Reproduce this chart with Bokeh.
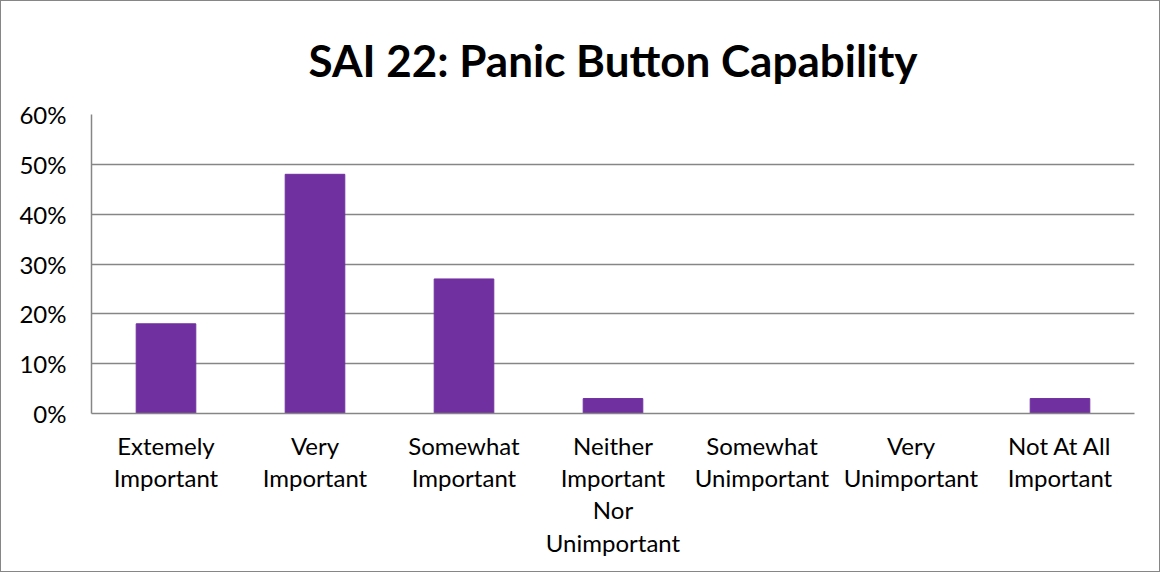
from bokeh.plotting import figure
from bokeh.models import FactorRange, NumeralTickFormatter, FixedTicker, Range1d
from bokeh.embed import file_html
from bokeh.resources import INLINE

categories = [
    "Extemely\nImportant",
    "Very\nImportant",
    "Somewhat\nImportant",
    "Neither\nImportant\nNor\nUnimportant",
    "Somewhat\nUnimportant",
    "Very\nUnimportant",
    "Not At All\nImportant",
]
values = [0.18, 0.48, 0.27, 0.03, 0.0, 0.0, 0.03]
y_ticks = [0.0, 0.1, 0.2, 0.3, 0.4, 0.5, 0.6]

FONT = "Lato"
GRID = "#868686"

p = figure(
    x_range=FactorRange(*categories, range_padding=0),
    y_range=Range1d(0, 0.6),
    width=1160, height=572,
    output_backend="svg", toolbar_location=None,
    min_border_left=90, min_border_right=27,
    min_border_top=113, min_border_bottom=160,
    title="SAI 22: Panic Button Capability",
)
p.styles = {"border": "1px solid #868686"}

p.vbar(x=categories, top=values, width=0.4, color="#7030A0", line_color="#7030A0")

p.title.text_font = FONT
p.title.text_font_size = "44px"
p.title.text_font_style = "bold"
p.title.align = "center"
p.title.vertical_align = "middle"
p.title.text_color = "#000000"
p.title.standoff = 56

p.outline_line_color = None
p.xgrid.grid_line_color = None
p.ygrid.grid_line_color = GRID
p.ygrid.grid_line_width = 1.5
p.yaxis.ticker = FixedTicker(ticks=y_ticks)
p.yaxis.formatter = NumeralTickFormatter(format="0%")

for ax in (p.xaxis[0], p.yaxis[0]):
    ax.axis_line_color = GRID
    ax.axis_line_width = 1.5
    ax.major_tick_line_color = None
    ax.minor_tick_line_color = None
    ax.major_tick_out = 0
    ax.major_tick_in = 0
    ax.major_label_text_font = FONT
    ax.major_label_text_font_size = "24px"
    ax.major_label_text_color = "#000000"

p.yaxis.major_label_standoff = 25
p.xaxis.major_label_standoff = 17
p.xaxis.major_label_text_line_height = 1.12

open("out.html", "w").write(file_html(p, INLINE))
